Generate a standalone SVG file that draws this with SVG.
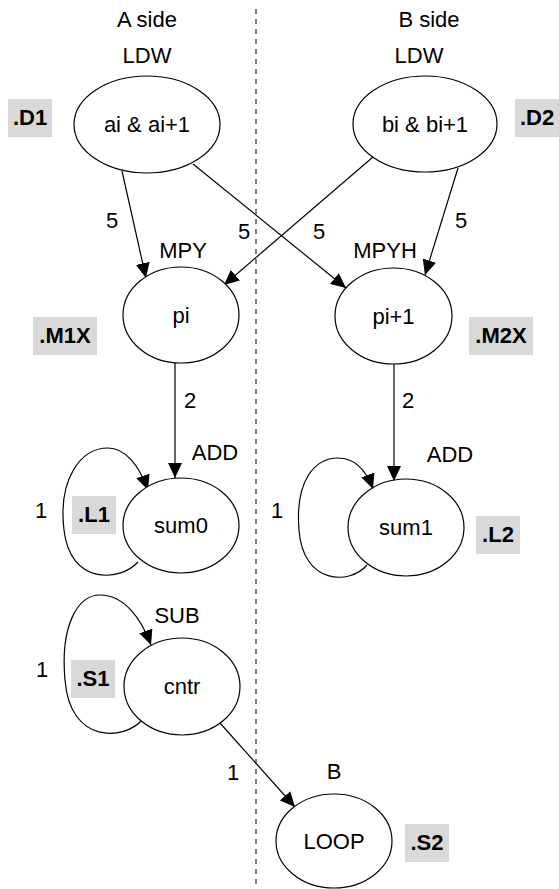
<svg xmlns="http://www.w3.org/2000/svg" width="559" height="889" viewBox="0 0 559 889">
<style>
.t{font-family:"Liberation Sans",Arial,sans-serif;font-size:22px;fill:#000;text-anchor:middle}
.b{font-family:"Liberation Sans",Arial,sans-serif;font-size:22px;font-weight:bold;fill:#000;text-anchor:middle}
.n{fill:#fff;stroke:#000;stroke-width:1.2}
.u{fill:#d9d9d9;stroke:none}
.e{fill:none;stroke:#000;stroke-width:1.2;marker-end:url(#ah)}
</style>
<defs>
<marker id="ah" viewBox="0 0 15 14" refX="15" refY="7" markerWidth="15" markerHeight="14" markerUnits="userSpaceOnUse" orient="auto">
<path d="M0,0 L15,7 L0,14 z" fill="#000"/>
</marker>
</defs>
<rect width="559" height="889" fill="#fff"/>
<line x1="256" y1="9" x2="256" y2="889" stroke="#555" stroke-width="1.5" stroke-dasharray="5,5"/>
<text class="t" x="147" y="27">A side</text>
<text class="t" x="429" y="27">B side</text>
<g id="connectors">
<line class="e" x1="122" y1="171" x2="146" y2="278"/>
<line class="e" x1="193" y1="164" x2="346" y2="288"/>
<line class="e" x1="373" y1="157" x2="224" y2="285"/>
<line class="e" x1="458" y1="168" x2="425" y2="275"/>
<line class="e" x1="175" y1="363" x2="175" y2="478"/>
<line class="e" x1="394" y1="364" x2="394" y2="481"/>
<line class="e" x1="220" y1="723" x2="295" y2="807"/>
<path class="e" d="M138,562 C120,582 70,585 64,530 C58,480 80,448 108,448 C125,448 139,465 148,490"/>
<path class="e" d="M367,565 C350,585 303,585 299,530 C295,480 315,458 338,458 C355,458 366,470 373,489"/>
<path class="e" d="M142,720 C125,740 70,745 65,680 C60,625 78,595 100,595 C124,595 141,618 151,645"/>
<text class="t" x="112" y="228">5</text>
<text class="t" x="244" y="239">5</text>
<text class="t" x="319" y="239">5</text>
<text class="t" x="461" y="228">5</text>
<text class="t" x="190" y="408">2</text>
<text class="t" x="408" y="408">2</text>
<text class="t" x="41" y="518">1</text>
<text class="t" x="277" y="518">1</text>
<text class="t" x="42" y="677">1</text>
<text class="t" x="233" y="780">1</text>
</g>
<g id="ai">
<text class="t" x="147" y="63">LDW</text>
<ellipse class="n" cx="147" cy="124.5" rx="73" ry="48.5"/>
<text class="t" x="147" y="132">ai &amp; ai+1</text>
<rect class="u" x="8" y="99" width="44" height="38"/>
<text class="b" x="30" y="125">.D1</text>
</g>
<g id="bi">
<text class="t" x="419" y="63">LDW</text>
<ellipse class="n" cx="425" cy="124" rx="72" ry="48"/>
<text class="t" x="425" y="132">bi &amp; bi+1</text>
<rect class="u" x="515" y="99" width="44" height="38"/>
<text class="b" x="537" y="125">.D2</text>
</g>
<g id="pi">
<text class="t" x="183" y="258">MPY</text>
<ellipse class="n" cx="181" cy="315" rx="58" ry="48"/>
<text class="t" x="181" y="323">pi</text>
<rect class="u" x="33" y="317" width="64" height="38"/>
<text class="b" x="65" y="343">.M1X</text>
</g>
<g id="pi1">
<text class="t" x="385" y="258">MPYH</text>
<ellipse class="n" cx="393.5" cy="316" rx="58.5" ry="48"/>
<text class="t" x="393.5" y="324">pi+1</text>
<rect class="u" x="469" y="317" width="64" height="38"/>
<text class="b" x="501" y="343">.M2X</text>
</g>
<g id="sum0">
<text class="t" x="215" y="460">ADD</text>
<ellipse class="n" cx="181" cy="525.5" rx="58" ry="47.5"/>
<text class="t" x="181" y="533">sum0</text>
<rect class="u" x="72" y="496" width="44" height="38"/>
<text class="b" x="94" y="522">.L1</text>
</g>
<g id="sum1">
<text class="t" x="450" y="462">ADD</text>
<ellipse class="n" cx="406" cy="527.5" rx="58" ry="48.5"/>
<text class="t" x="406" y="535">sum1</text>
<rect class="u" x="476" y="516" width="44" height="38"/>
<text class="b" x="498" y="542">.L2</text>
</g>
<g id="cntr">
<text class="t" x="177" y="623">SUB</text>
<ellipse class="n" cx="182" cy="686.5" rx="58" ry="48.5"/>
<text class="t" x="182" y="694">cntr</text>
<rect class="u" x="71" y="660" width="44" height="38"/>
<text class="b" x="93" y="686">.S1</text>
</g>
<g id="loop">
<text class="t" x="334" y="779">B</text>
<ellipse class="n" cx="334" cy="841" rx="58" ry="47"/>
<text class="t" x="334" y="849">LOOP</text>
<rect class="u" x="405" y="824" width="44" height="38"/>
<text class="b" x="427" y="850">.S2</text>
</g>
</svg>
